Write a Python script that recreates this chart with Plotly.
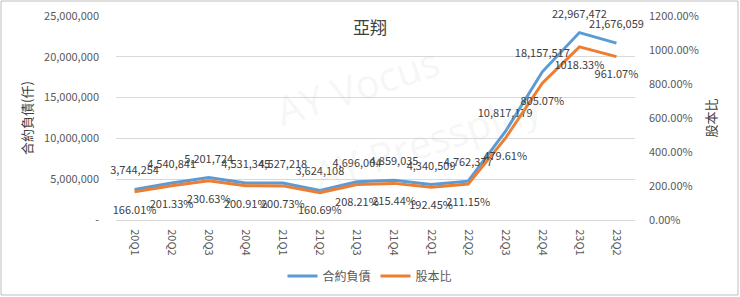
import plotly.graph_objects as go

categories = ["20Q1", "20Q2", "20Q3", "20Q4", "21Q1", "21Q2", "21Q3", "21Q4",
              "22Q1", "22Q2", "22Q3", "22Q4", "23Q1", "23Q2"]
contract_liab = [3744254, 4540841, 5201724, 4531345, 4527218, 3624108, 4696004,
                 4859035, 4340509, 4762377, 10817179, 18157517, 22967472, 21676059]
equity_ratio = [166.01, 201.33, 230.63, 200.91, 200.73, 160.69, 208.21,
                215.44, 192.45, 211.15, 479.61, 805.07, 1018.33, 961.07]
left_tickvals = [0, 5000000, 10000000, 15000000, 20000000, 25000000]
left_ticktext = ["-", "5,000,000", "10,000,000", "15,000,000", "20,000,000", "25,000,000"]
right_tickvals = [0, 200, 400, 600, 800, 1000, 1200]
right_ticktext = ["0.00%", "200.00%", "400.00%", "600.00%", "800.00%", "1000.00%", "1200.00%"]

FONT = "Noto Sans CJK TC"
BLUE = "#5B9BD5"
ORANGE = "#ED7D31"
LABEL_FONT = dict(family=FONT, size=11, color="#404040")

fig = go.Figure()
fig.add_trace(go.Scatter(
    x=categories, y=contract_liab, name="合約負債", mode="lines",
    line=dict(color=BLUE, width=3), yaxis="y",
))
fig.add_trace(go.Scatter(
    x=categories, y=equity_ratio, name="股本比", mode="lines",
    line=dict(color=ORANGE, width=3), yaxis="y2",
))
# data labels (invisible markers push text away from the line)
fig.add_trace(go.Scatter(
    x=categories, y=contract_liab, mode="markers+text", showlegend=False,
    marker=dict(size=18, opacity=0), hoverinfo="skip",
    text=[f"{v:,}" for v in contract_liab], textposition="top center",
    textfont=LABEL_FONT, yaxis="y", cliponaxis=False,
))
fig.add_trace(go.Scatter(
    x=categories, y=equity_ratio, mode="markers+text", showlegend=False,
    marker=dict(size=20, opacity=0), hoverinfo="skip",
    text=[f"{v:.2f}%" for v in equity_ratio], textposition="bottom center",
    textfont=LABEL_FONT, yaxis="y2", cliponaxis=False,
))

# faint watermark
fig.add_annotation(text="AY Vocus", xref="paper", yref="paper", x=0.29, y=0.66,
                   showarrow=False, textangle=-18,
                   font=dict(family="Open Sans", size=40, color="rgba(200,200,200,0.16)"))
fig.add_annotation(text="AY Pressplay", xref="paper", yref="paper", x=0.60, y=0.39,
                   showarrow=False, textangle=-18,
                   font=dict(family="Open Sans", size=40, color="rgba(200,200,200,0.16)"))

fig.update_layout(
    width=740, height=297,
    margin=dict(l=116, r=105, t=16, b=77),
    paper_bgcolor="white", plot_bgcolor="white",
    font=dict(family=FONT, size=11, color="#595959"),
    title=dict(text="亞翔", x=0.5, xref="container", xanchor="center",
               y=1 - 28 / 297, yref="container", yanchor="middle",
               font=dict(family=FONT, size=17, color="#404040")),
    xaxis=dict(type="category", range=[-0.5, len(categories) - 0.5], tickangle=90,
               showgrid=False, showline=True,
               linecolor="#D9D9D9", ticks="", ticklabelstandoff=6, automargin=False,
               tickfont=dict(size=11, color="#595959")),
    yaxis=dict(range=[0, 25000000], tickvals=left_tickvals, ticktext=left_ticktext,
               showgrid=True, gridcolor="#D9D9D9", zeroline=False, ticks="",
               ticklabelstandoff=16, automargin=False,
               title=dict(text="合約負債(仟)", standoff=8, font=dict(size=13, color="#404040"))),
    yaxis2=dict(range=[0, 1200], tickvals=right_tickvals, ticktext=right_ticktext,
                overlaying="y", side="right", showgrid=False, zeroline=False, ticks="",
                ticklabelstandoff=13, automargin=False,
                title=dict(text="股本比", standoff=9, font=dict(size=13, color="#404040"))),
    legend=dict(orientation="h", xref="container", yref="container", x=0.5, y=1 - 276 / 297,
                xanchor="center", yanchor="middle", font=dict(size=12, color="#595959")),
    showlegend=True,
    shapes=[dict(type="rect", xref="paper", yref="paper", x0=-115 / 519, x1=1 + 103 / 519,
                 y0=-75 / 204, y1=1 + 15 / 204, line=dict(color="#BFBFBF", width=1))],
)

fig.write_html("out.html")
